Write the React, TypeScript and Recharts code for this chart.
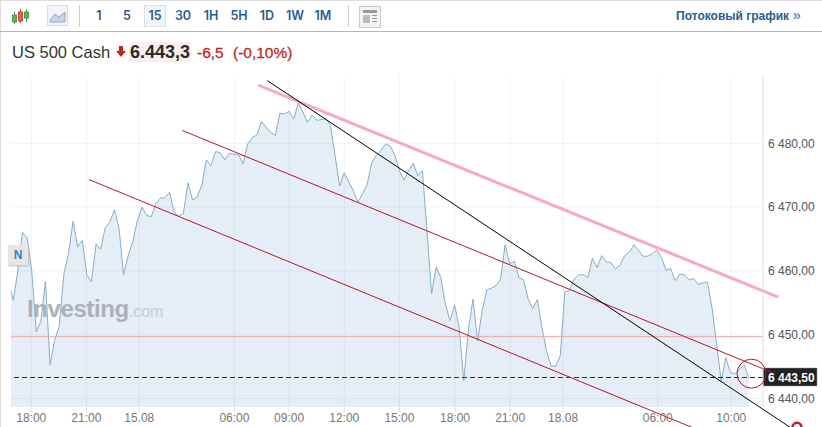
import { Area, CartesianGrid, ComposedChart, ReferenceDot, ReferenceLine, XAxis, YAxis } from "recharts";

// 15 minute closes (first bar is cut by the left edge)
const closes = [
  6458.2, 6455.4, 6460.1, 6466.0, 6465.2, 6460.1, 6450.5, 6452.1, 6458.4, 6445.3, 6449.1, 6451.4,
  6459.5, 6462.7, 6467.8, 6463.8, 6464.8, 6459.4, 6458.3, 6464.2, 6463.4, 6466.8, 6467.6, 6469.6,
  6466.7, 6459.4, 6462.4, 6464.6, 6467.9, 6470.0, 6468.7, 6468.5, 6470.5, 6471.4, 6471.5, 6472.3,
  6469.2, 6468.6, 6469.0, 6473.8, 6471.1, 6471.6, 6473.4, 6477.4, 6476.5, 6478.7, 6478.5, 6477.4,
  6478.4, 6478.3, 6478.2, 6476.8, 6479.9, 6480.9, 6481.3, 6483.4, 6482.5, 6481.7, 6481.2, 6484.7,
  6484.6, 6485.0, 6483.8, 6486.3, 6484.9, 6483.3, 6484.4, 6483.6, 6483.7, 6483.9, 6482.8, 6478.1,
  6473.3, 6475.4, 6473.9, 6472.5, 6470.8, 6472.1, 6473.6, 6477.0, 6478.1, 6478.9, 6479.9, 6479.6,
  6478.1, 6475.7, 6474.2, 6475.7, 6476.9, 6474.9, 6475.7, 6466.3, 6456.4, 6460.6, 6459.0, 6454.8,
  6452.2, 6454.7, 6451.2, 6442.8, 6450.7, 6455.6, 6449.0, 6453.8, 6457.0, 6457.3, 6457.7, 6458.7,
  6464.1, 6461.1, 6461.5, 6459.0, 6458.6, 6455.6, 6454.1, 6455.5, 6451.2, 6447.5, 6445.1, 6445.1,
  6446.7, 6456.8, 6456.9, 6458.7, 6459.4, 6459.4, 6459.0, 6462.0, 6460.5, 6462.4, 6461.4, 6461.3,
  6460.3, 6460.9, 6462.4, 6462.9, 6464.1, 6463.2, 6462.3, 6462.3, 6462.7, 6463.3, 6462.1, 6460.1,
  6460.4, 6458.5, 6459.5, 6459.4, 6458.6, 6458.8, 6457.9, 6458.1, 6458.3, 6454.3, 6448.6, 6442.8,
  6446.4, 6444.1, 6443.9, 6444.6, 6445.3, 6443.3,
];

const xTickBars = [4.9, 16.9, 28.4, 49.1, 61, 73, 85, 97.1, 109.1, 120.6, 141.2, 157.2];
const xTickLabels = ["18:00", "21:00", "15.08", "06:00", "09:00", "12:00", "15:00", "18:00", "21:00", "18.08", "06:00", "10:00"];
const priceTicks = [6440, 6450, 6460, 6470, 6480];
const intervals = ["1", "5", "15", "30", "1H", "5H", "1D", "1W", "1M"];

const lastPrice = 6443.3;
const prevClose = 6449.7;

// hand drawn trend lines: [bar, price] -> [bar, price]
const pinkLine = [{ x: 54.3, y: 6489.1 }, { x: 167.4, y: 6455.9 }];
const blackLine = [{ x: 56.3, y: 6489.8 }, { x: 170, y: 6435.5 }];
const redUpper = [{ x: 37.8, y: 6482 }, { x: 166.7, y: 6443.9 }];
const redLower = [{ x: 17.5, y: 6474.3 }, { x: 148.6, y: 6435.5 }];

const chartData = closes.map((price, i) => ({ bar: i, price }));

const FONT = "'Liberation Sans', Arial, sans-serif";
const BLUE = "#2b5c8f";
const RED = "#c0281e";

const formatPrice = (v: number) => {
  const [whole, dec] = v.toFixed(2).split(".");
  return `${whole[0]} ${whole.slice(1)},${dec}`;
};

function PriceTag(props: any) {
  const { viewBox } = props;
  const y = viewBox.y;
  const x = viewBox.x + viewBox.width;
  return (
    <g>
      <rect x={x} y={y - 9.5} width={54} height={18} fill="#222" stroke="#999" strokeWidth={0.5} />
      <text x={x + 5} y={y + 4} fill="#fff" fontSize={12} fontWeight={700} fontFamily={FONT}>
        {formatPrice(6443.5)}
      </text>
    </g>
  );
}

function Toolbar() {
  return (
    <div style={{ position: "absolute", left: 0, top: 0, width: 822, height: 32, borderTop: "1px solid #ddd", borderBottom: "1px solid #b5b5b5", boxSizing: "border-box" }}>
      <svg width={30} height={24} style={{ position: "absolute", left: 10, top: 3 }}>
        <g strokeWidth={1}>
          <line x1={4.5} y1={8} x2={4.5} y2={20} stroke="#4c9a4c" />
          <rect x={2.5} y={11} width={4} height={7} fill="#5fae5f" stroke="#4c9a4c" />
          <line x1={10.5} y1={5} x2={10.5} y2={19} stroke="#c9483f" />
          <rect x={8.5} y={8} width={4} height={9} fill="#e0635a" stroke="#c9483f" />
          <line x1={16.5} y1={5} x2={16.5} y2={18} stroke="#4c9a4c" />
          <rect x={14.5} y={8} width={4} height={6} fill="#5fae5f" stroke="#4c9a4c" />
        </g>
      </svg>
      <div style={{ position: "absolute", left: 47, top: 4, width: 21, height: 21, border: "1px solid #ddd", background: "#f3f5f8", boxSizing: "border-box" }}>
        <svg width={19} height={19}>
          <path d="M2 14 L7 8 L11 11 L17 6 L17 16 L2 16 Z" fill="#c5d5e8" stroke="#8ba9c9" strokeWidth={1} />
        </svg>
      </div>
      <div style={{ position: "absolute", left: 79, top: 4, width: 1, height: 22, background: "#ccc" }} />
      <div style={{ position: "absolute", left: 144, top: 4, width: 22, height: 22, border: "1px solid #e0e0e0", background: "#f3f5f8", boxSizing: "border-box" }} />
      {intervals.map((label, i) => (
        <span key={label} style={{ position: "absolute", left: 85 + i * 28, top: 7, width: 28, textAlign: "center", font: `600 12.5px Inter, ${FONT}`, color: BLUE }}>
          {label}
        </span>
      ))}
      <div style={{ position: "absolute", left: 348, top: 4, width: 1, height: 22, background: "#ccc" }} />
      <div style={{ position: "absolute", left: 359, top: 5, width: 22, height: 22, border: "1px solid #ccc", background: "#f3f3f3", boxSizing: "border-box" }}>
        <svg width={20} height={20}>
          <rect x={3} y={3} width={14} height={3} fill="#999" />
          <rect x={3} y={8} width={7} height={8} fill="#bbb" />
          <rect x={12} y={8} width={5} height={1} fill="#999" />
          <rect x={12} y={11} width={5} height={1} fill="#999" />
          <rect x={12} y={14} width={5} height={1} fill="#999" />
        </svg>
      </div>
      <span style={{ position: "absolute", left: 676, top: 8, font: `700 12px ${FONT}`, color: BLUE, whiteSpace: "nowrap" }}>Потоковый график</span>
      <span style={{ position: "absolute", left: 793, top: 6, font: `400 14px ${FONT}`, color: BLUE }}>»</span>
    </div>
  );
}

function Quote() {
  const redText = { position: "absolute", top: 2, font: `400 15.5px ${FONT}`, color: RED, WebkitTextStroke: `0.3px ${RED}` } as const;
  return (
    <div style={{ position: "absolute", left: 12, top: 42, height: 20, whiteSpace: "nowrap" }}>
      <span style={{ position: "absolute", left: 0, top: 1, font: `400 16.5px ${FONT}`, color: "#333" }}>US 500 Cash</span>
      <svg width={10} height={12} style={{ position: "absolute", left: 104, top: 4 }}>
        <path d="M3 0 H7 V5 H10 L5 11 L0 5 H3 Z" fill={RED} />
      </svg>
      <span style={{ position: "absolute", left: 117, top: 0, height: 20, padding: "0 1px", background: "#fbeeec", font: `700 18px/20px ${FONT}`, color: "#2a2a2a" }}>6.443,3</span>
      <span style={{ ...redText, left: 185 }}>-6,5</span>
      <span style={{ ...redText, left: 221 }}>(-0,10%)</span>
    </div>
  );
}

export default function App() {
  return (
    <div style={{ position: "absolute", left: 0, top: 0, width: 822, height: 427, overflow: "hidden", background: "#fff", fontFamily: FONT }}>
      <style>{"body{margin:0;overflow:hidden}"}</style>
      <div style={{ position: "absolute", left: 0, top: 0, width: 1, height: 427, background: "#ddd" }} />
      <Toolbar />
      <Quote />
      <div style={{ position: "absolute", left: 0, top: 0 }}>
        <ComposedChart width={822} height={427} data={chartData} margin={{ top: 77, right: 0, bottom: 0, left: 11 }}>
          <CartesianGrid stroke="#f0f2f5" syncWithTicks />
          <XAxis
            dataKey="bar"
            type="number"
            domain={[0.5, 164.1]}
            allowDataOverflow
            ticks={xTickBars}
            interval={0}
            tickFormatter={(v: number) => xTickLabels[xTickBars.indexOf(v)]}
            height={20}
            axisLine={false}
            tickLine={{ stroke: "#ddd" }}
            tickSize={5}
            tickMargin={1}
            tick={{ fill: "#777", fontSize: 12, fontFamily: FONT }}
          />
          <YAxis
            orientation="right"
            type="number"
            domain={[6438.68, 6490.38]}
            allowDataOverflow
            ticks={priceTicks}
            interval={0}
            tickFormatter={formatPrice}
            width={59}
            axisLine={{ stroke: "#ddd" }}
            tickLine={false}
            tickSize={0}
            tickMargin={5}
            tick={{ fill: "#555", fontSize: 12, fontFamily: FONT, textAnchor: "start" }}
          />
          <Area
            type="linear"
            dataKey="price"
            stroke="#86aec9"
            strokeWidth={1}
            fill="#5b92c4"
            fillOpacity={0.16}
            dot={false}
            activeDot={false}
            isAnimationActive={false}
          />
          <ReferenceLine y={prevClose} stroke="#eba9a9" strokeWidth={1} />
          <ReferenceLine y={lastPrice} stroke="#333" strokeDasharray="5 3" strokeWidth={1} label={<PriceTag />} />
          <ReferenceLine segment={pinkLine} stroke="#f7a9c4" strokeWidth={3} ifOverflow="visible" />
          <ReferenceLine segment={redUpper} stroke="#b5182a" strokeWidth={1} ifOverflow="visible" />
          <ReferenceLine segment={redLower} stroke="#b5182a" strokeWidth={1} ifOverflow="visible" />
          <ReferenceLine segment={blackLine} stroke="#000" strokeWidth={1} ifOverflow="visible" />
          <ReferenceDot x={161.6} y={6443.9} r={14.5} fill="none" stroke="#b5182a" strokeWidth={1} ifOverflow="visible" />
          <ReferenceDot x={171.5} y={6435.5} r={4.5} fill="#fff" stroke="#d0142c" strokeWidth={2.5} ifOverflow="visible" />
        </ComposedChart>
      </div>
      <div style={{ position: "absolute", left: 8, top: 245, width: 20, height: 20, background: "#e6e6e6", boxShadow: "1px 1px 2px #bbb", textAlign: "center", font: `700 12px/20px ${FONT}`, color: "#3a7fc0" }}>N</div>
      <div style={{ position: "absolute", left: 27, top: 295, whiteSpace: "nowrap", opacity: 0.85 }}>
        <span style={{ font: `700 24px ${FONT}`, color: "#a3a7ad", letterSpacing: -0.4 }}>Investing</span>
        <span style={{ font: `400 16px ${FONT}`, color: "#c3c7cc" }}>.com</span>
      </div>
    </div>
  );
}
